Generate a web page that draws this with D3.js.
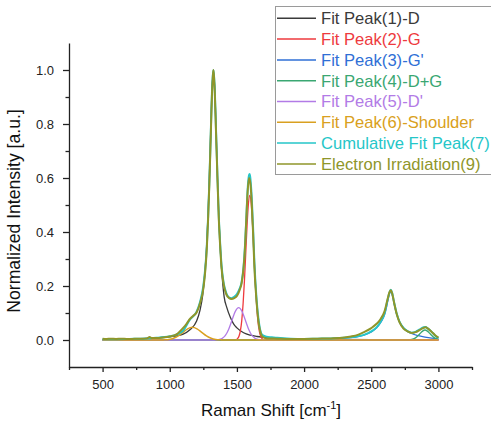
<!DOCTYPE html>
<html>
<head>
<meta charset="utf-8">
<script src="https://cdn.jsdelivr.net/npm/d3@7"></script>
<style>
  body { margin: 0; background: #fff; }
  svg { font-family: "Liberation Sans", Arial, sans-serif; }
</style>
</head>
<body>
<svg width="491" height="424"></svg>
<script>
// series: [Raman shift, normalized intensity]
const fitD = [[500,0.002],[700,0.004],[900,0.008],[1000,0.012],[1100,0.022],[1150,0.038],[1200,0.07],[1225,0.11],[1245,0.165],[1265,0.27],[1275,0.35],[1285,0.46],[1295,0.6],[1305,0.77],[1315,0.93],[1325,0.99],[1335,0.93],[1345,0.77],[1355,0.6],[1365,0.46],[1375,0.35],[1385,0.27],[1405,0.16],[1425,0.12],[1450,0.085],[1475,0.06],[1500,0.045],[1550,0.027],[1600,0.018],[1650,0.013],[1750,0.008],[2000,0.003],[2500,0.001],[3000,0.0005]]
const fitG = [[500,0],[1480,0],[1496,0.001],[1506,0.006],[1516,0.015],[1526,0.035],[1536,0.072],[1546,0.134],[1556,0.22],[1566,0.325],[1576,0.429],[1586,0.507],[1596,0.536],[1606,0.507],[1616,0.429],[1626,0.325],[1636,0.22],[1646,0.134],[1656,0.072],[1666,0.035],[1676,0.015],[1686,0.006],[1696,0.001],[1720,0],[3000,0]]
const fitGp = [[500,0],[1800,0.001],[2000,0.002],[2200,0.004],[2300,0.007],[2400,0.013],[2450,0.019],[2500,0.03],[2540,0.045],[2570,0.065],[2600,0.095],[2615,0.125],[2630,0.16],[2645,0.178],[2660,0.16],[2675,0.125],[2690,0.095],[2710,0.068],[2740,0.045],[2770,0.032],[2800,0.024],[2850,0.016],[2900,0.011],[2950,0.007],[3000,0.004]]
const fitDG = [[500,0],[2760,0],[2780,0.0005],[2800,0.002],[2820,0.005],[2840,0.012],[2860,0.022],[2880,0.032],[2900,0.037],[2920,0.032],[2940,0.022],[2960,0.012],[2980,0.005],[3000,0.002]]
const fitDp = [[500,0],[1330,0],[1363,0.0013],[1388,0.0053],[1413,0.016],[1438,0.039],[1463,0.073],[1488,0.106],[1513,0.12],[1538,0.106],[1563,0.073],[1588,0.039],[1613,0.016],[1638,0.0053],[1663,0.0013],[1700,0],[3000,0]]
const fitSh = [[500,0],[950,0],[958,0.0005],[993,0.002],[1028,0.0064],[1063,0.0153],[1098,0.0285],[1133,0.0415],[1168,0.047],[1203,0.0415],[1238,0.0285],[1273,0.0153],[1308,0.0064],[1343,0.002],[1378,0.0005],[1400,0],[3000,0]]
const cumFit = [[500,0.003],[600,0.003],[700,0.004],[800,0.005],[900,0.008],[1000,0.014],[1050,0.02],[1100,0.035],[1150,0.075],[1200,0.105],[1225,0.14],[1250,0.2],[1265,0.27],[1275,0.34],[1285,0.45],[1295,0.59],[1305,0.76],[1315,0.93],[1320,0.975],[1325,1.0],[1330,0.975],[1335,0.93],[1345,0.77],[1355,0.61],[1365,0.46],[1375,0.36],[1385,0.28],[1400,0.215],[1420,0.175],[1440,0.158],[1460,0.155],[1480,0.16],[1500,0.17],[1520,0.19],[1535,0.215],[1550,0.275],[1560,0.35],[1570,0.45],[1580,0.56],[1590,0.61],[1595,0.615],[1600,0.6],[1610,0.53],[1620,0.42],[1630,0.29],[1645,0.16],[1660,0.08],[1672,0.04],[1690,0.018],[1720,0.012],[1760,0.01],[1800,0.008],[1900,0.005],[2000,0.004],[2100,0.005],[2200,0.006],[2300,0.008],[2400,0.014],[2450,0.02],[2500,0.032],[2540,0.047],[2570,0.068],[2600,0.1],[2620,0.145],[2635,0.175],[2645,0.186],[2655,0.176],[2670,0.14],[2690,0.097],[2710,0.068],[2740,0.045],[2770,0.033],[2800,0.027],[2830,0.03],[2860,0.039],[2890,0.047],[2905,0.048],[2920,0.043],[2950,0.03],[2975,0.017],[3000,0.007]]
const irrad = [[500,0.005],[530,0.004],[560,0.005],[600,0.004],[640,0.005],[680,0.004],[720,0.004],[760,0.005],[800,0.005],[830,0.006],[850,0.011],[865,0.007],[900,0.007],[950,0.009],[1000,0.013],[1050,0.021],[1100,0.045],[1125,0.06],[1150,0.078],[1175,0.09],[1200,0.102],[1225,0.135],[1250,0.19],[1265,0.26],[1275,0.33],[1285,0.44],[1295,0.58],[1305,0.75],[1315,0.92],[1320,0.97],[1325,1.0],[1330,0.97],[1335,0.92],[1345,0.76],[1355,0.6],[1365,0.45],[1375,0.35],[1385,0.27],[1400,0.21],[1420,0.17],[1440,0.156],[1460,0.152],[1480,0.155],[1500,0.163],[1520,0.185],[1535,0.21],[1550,0.27],[1560,0.34],[1570,0.45],[1580,0.55],[1590,0.6],[1600,0.58],[1610,0.51],[1620,0.4],[1630,0.27],[1645,0.15],[1660,0.07],[1672,0.035],[1690,0.012],[1720,0.006],[1800,0.005],[1900,0.004],[2000,0.004],[2100,0.005],[2200,0.006],[2300,0.009],[2350,0.013],[2400,0.019],[2450,0.03],[2500,0.044],[2540,0.06],[2570,0.078],[2600,0.108],[2620,0.148],[2635,0.176],[2645,0.184],[2655,0.174],[2670,0.138],[2690,0.095],[2710,0.066],[2740,0.042],[2770,0.032],[2800,0.026],[2830,0.029],[2860,0.037],[2890,0.045],[2905,0.047],[2920,0.043],[2950,0.03],[2975,0.018],[3000,0.009]]

const seriesNames = ["Fit Peak(1)-D", "Fit Peak(2)-G", "Fit Peak(3)-G'", "Fit Peak(4)-D+G", "Fit Peak(5)-D'", "Fit Peak(6)-Shoulder", "Cumulative Fit Peak(7)", "Electron Irradiation(9)"]
const seriesColors = ["#3a3a3a", "#ee3a3e", "#2f6fd6", "#3aa772", "#b27be6", "#d9a020", "#25c6c8", "#8f962a"]
const seriesData = [fitD, fitG, fitGp, fitDG, fitDp, fitSh, cumFit, irrad]
const seriesWidth = [1.3, 1.3, 1.3, 1.3, 1.3, 1.5, 2, 2]

const xMajor = [500, 1000, 1500, 2000, 2500, 3000]
const xMinor = [250, 750, 1250, 1750, 2250, 2750, 3250]
const yMajor = [0, 0.2, 0.4, 0.6, 0.8, 1.0]
const yMinor = [0.1, 0.3, 0.5, 0.7, 0.9]

const svg = d3.select("svg")

const x = d3.scaleLinear().domain([250, 3250]).range([69, 472])
const y = d3.scaleLinear().domain([-0.1, 1.1]).range([367, 43])

const line = d3.line()
  .x(d => x(d[0]))
  .y(d => y(d[1]))
  .curve(d3.curveMonotoneX)

// curves, fits first then cumulative fit and data on top
svg.append("g")
  .selectAll("path")
  .data(seriesData)
  .enter()
  .append("path")
  .attr("d", d => line(d))
  .attr("fill", "none")
  .attr("stroke", (d, i) => seriesColors[i])
  .attr("stroke-width", (d, i) => seriesWidth[i])
  .attr("stroke-linejoin", "round")

// axes
const axisColor = "#222"
const gx = svg.append("g").attr("transform", "translate(0,367)")
gx.call(d3.axisBottom(x).tickValues(xMajor).tickSize(5).tickSizeOuter(0).tickPadding(8).tickFormat(d3.format("d")))
svg.append("g").attr("transform", "translate(0,367)")
  .call(d3.axisBottom(x).tickValues(xMinor).tickSize(3).tickFormat(""))
  .call(g => g.select(".domain").remove())

const gy = svg.append("g").attr("transform", "translate(69,0)")
gy.call(d3.axisLeft(y).tickValues(yMajor).tickSize(6).tickSizeOuter(0).tickPadding(9).tickFormat(d3.format(".1f")))
svg.append("g").attr("transform", "translate(69,0)")
  .call(d3.axisLeft(y).tickValues(yMinor).tickSize(3.5).tickFormat(""))
  .call(g => g.select(".domain").remove())

svg.selectAll(".domain, .tick line").attr("stroke", axisColor).attr("stroke-width", 1.3)
svg.selectAll(".tick text")
  .attr("font-family", "Liberation Sans, Arial, sans-serif")
  .attr("font-size", 13)
  .attr("fill", axisColor)

// axis titles
svg.append("text")
  .attr("x", 271)
  .attr("y", 416)
  .attr("text-anchor", "middle")
  .attr("font-size", 17)
  .attr("fill", "#111")
  .html('Raman Shift [cm<tspan dy="-7" font-size="11">-1</tspan><tspan dy="7">]</tspan>')

svg.append("text")
  .attr("transform", "translate(20,211) rotate(-90)")
  .attr("text-anchor", "middle")
  .attr("font-size", 17.6)
  .attr("fill", "#111")
  .text("Normalized Intensity [a.u.]")

// legend
const legend = svg.append("g")
legend.append("rect")
  .attr("x", 275.5).attr("y", 6.5)
  .attr("width", 230).attr("height", 168)
  .attr("fill", "#fff")
  .attr("stroke", "#9a9a9a")
  .attr("stroke-width", 1)

const rowH = 20.8
const item = legend.selectAll("g.item")
  .data(seriesNames)
  .enter()
  .append("g")
  .attr("class", "item")
  .attr("transform", (d, i) => `translate(0,${18.3 + i * rowH})`)

item.append("line")
  .attr("x1", 277).attr("x2", 316)
  .attr("stroke", (d, i) => seriesColors[i])
  .attr("stroke-width", 1.5)

item.append("text")
  .attr("x", 321)
  .attr("dy", "0.36em")
  .attr("font-size", 16.6)
  .attr("fill", (d, i) => seriesColors[i])
  .text(d => d)
</script>
</body>
</html>
